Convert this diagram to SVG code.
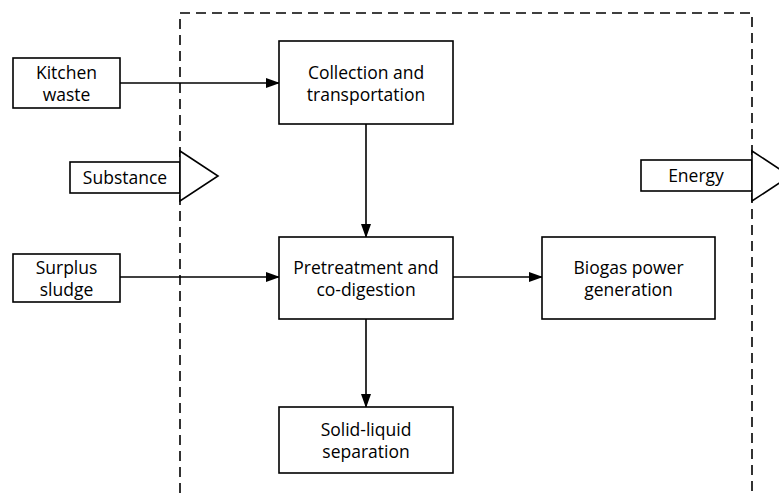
<svg xmlns="http://www.w3.org/2000/svg" width="779" height="493" viewBox="0 0 779 493">
<style>
.box{fill:#fff;stroke:#000;stroke-width:1.6}
.t{font-family:"Open Sans","Noto Sans",sans-serif;font-size:17.5px;fill:#000;text-anchor:middle}
.c{stroke:#000;stroke-width:1.6;fill:none}
.dash{stroke:#000;stroke-width:1.6;fill:none;stroke-dasharray:10 6}
</style>
<defs>
<marker id="ah" markerWidth="14" markerHeight="10" refX="13" refY="5" orient="auto" markerUnits="userSpaceOnUse">
<path d="M0,0 L14,5 L0,10 Z" fill="#000"/>
</marker>
</defs>
<rect width="779" height="493" fill="#fff"/>
<path class="dash" d="M180,493 L180,13 L752,13 L752,493"/>
<g id="connectors">
<line class="c" x1="120" y1="83" x2="279" y2="83" marker-end="url(#ah)"/>
<line class="c" x1="120" y1="277" x2="279" y2="277" marker-end="url(#ah)"/>
<line class="c" x1="366" y1="124" x2="366" y2="237" marker-end="url(#ah)"/>
<line class="c" x1="453" y1="277" x2="542" y2="277" marker-end="url(#ah)"/>
<line class="c" x1="366" y1="319" x2="366" y2="407" marker-end="url(#ah)"/>
</g>
<g id="kitchen">
<rect class="box" x="13" y="58" width="107" height="50"/>
<text class="t" x="66.5" y="79">Kitchen</text>
<text class="t" x="66.5" y="101">waste</text>
</g>
<g id="collection">
<rect class="box" x="279" y="41" width="174" height="83"/>
<text class="t" x="366" y="79">Collection and</text>
<text class="t" x="366" y="101">transportation</text>
</g>
<g id="substance">
<rect class="box" x="70" y="162" width="110" height="31"/>
<path class="box" d="M180,151 L218,176 L180,201 Z"/>
<text class="t" x="125" y="184">Substance</text>
</g>
<g id="energy">
<rect class="box" x="641" y="160" width="111" height="31"/>
<path class="box" d="M752,151 L790,176 L752,201 Z"/>
<text class="t" x="696" y="182">Energy</text>
</g>
<g id="sludge">
<rect class="box" x="13" y="254" width="107" height="48"/>
<text class="t" x="66.5" y="274">Surplus</text>
<text class="t" x="66.5" y="296">sludge</text>
</g>
<g id="pretreatment">
<rect class="box" x="279" y="237" width="174" height="82"/>
<text class="t" x="366" y="274">Pretreatment and</text>
<text class="t" x="366" y="296">co-digestion</text>
</g>
<g id="biogas">
<rect class="box" x="542" y="237" width="173" height="82"/>
<text class="t" x="628.5" y="274">Biogas power</text>
<text class="t" x="628.5" y="296">generation</text>
</g>
<g id="separation">
<rect class="box" x="279" y="407" width="174" height="66"/>
<text class="t" x="366" y="436">Solid-liquid</text>
<text class="t" x="366" y="458">separation</text>
</g>
</svg>
